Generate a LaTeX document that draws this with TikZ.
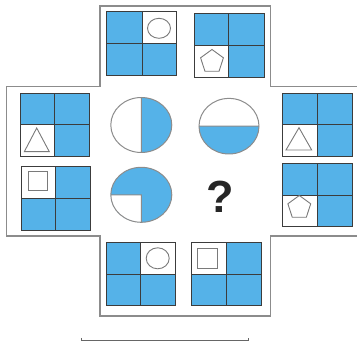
\documentclass[tikz,border=0pt]{standalone}
\usepackage{fontspec}
\setsansfont{Liberation Sans}
\usetikzlibrary{shapes.geometric}
\definecolor{blu}{HTML}{55B2E8}
\definecolor{frame}{HTML}{8C8C8C}
\definecolor{gline}{HTML}{3C3C3C}
\definecolor{shp}{HTML}{7A7A7A}
\newcommand\qgrid[7]{% x0 y0 x1 y1 xm ym white-cell-rectangle
  \fill[blu] (#1,#2) rectangle (#3,#4);
  \fill[white] #7;
  \draw[gridl] (#1,#2) rectangle (#3,#4) (#5,#2) -- (#5,#4) (#1,#6) -- (#3,#6);
}
\begin{document}
\begin{tikzpicture}[x=1pt,y=-1pt,
  gridl/.style={draw=gline,line width=0.8pt},
  outl/.style={draw=frame,line width=1.4pt},
  glyph/.style={draw=shp,line width=0.9pt,inner sep=0pt},
  circ/.style={draw=frame,line width=1pt},
  pent/.style={glyph,regular polygon,regular polygon sides=5,minimum size=24pt}]
\useasboundingbox (0,0) rectangle (357,345);
% outline
\draw[outl] (357,86.7) -- (270.7,86.7) -- (270.7,6) -- (100,6) -- (100,86.7) -- (6.7,86.7)
  -- (6.7,236) -- (100,236) -- (100,316) -- (270.7,316) -- (270.7,236) -- (357,236);
% top grids
\qgrid{106.7}{11.7}{176.7}{75}{142}{43.3}{(142,11.7) rectangle (176.7,43.3)}
\node[glyph,ellipse,minimum width=23pt,minimum height=20pt] (c1) at (159,28.3) {};
\qgrid{194}{13.3}{264}{77.3}{228.7}{45}{(194,45) rectangle (228.7,77.3)}
\node[pent] (p1) at (212,61.5) {};
% left grids
\qgrid{20}{93.3}{89.3}{156}{54.3}{124.3}{(20,124.3) rectangle (54.3,156)}
\draw[glyph] (36.7,128) -- (49.3,151.7) -- (24.3,151.7) -- cycle;
\qgrid{21}{166.7}{90.3}{230}{55.7}{198.3}{(21,166.7) rectangle (55.7,198.3)}
\node[glyph,rectangle,minimum width=19.4pt,minimum height=19pt] (s1) at (38,181.2) {};
% right grids
\qgrid{282.7}{93.3}{352.3}{156}{317.3}{124.3}{(282.7,124.3) rectangle (317.3,156)}
\draw[glyph] (299,127.7) -- (311.7,150) -- (286,150) -- cycle;
\qgrid{282.7}{163.3}{352.3}{226.7}{317.3}{195}{(282.7,195) rectangle (317.3,226.7)}
\node[pent] (p2) at (299.3,207.5) {};
% bottom grids
\qgrid{106}{242.3}{175.7}{305.7}{140.7}{274}{(140.7,242.3) rectangle (175.7,274)}
\node[glyph,ellipse,minimum width=23pt,minimum height=21pt] (c2) at (157.7,258.3) {};
\qgrid{191.7}{242.3}{261.7}{305.7}{226.7}{274}{(191.7,242.3) rectangle (226.7,274)}
\node[glyph,rectangle,minimum width=19.6pt,minimum height=19.3pt] (s2) at (207.5,258.6) {};
% circles
\begin{scope}
  \clip (141.3,125) ellipse (30.5 and 27.5);
  \fill[blu] (141.3,90) rectangle (180,160);
\end{scope}
\draw[circ] (141.3,125) ellipse (30.5 and 27.5) (141.3,97.5) -- (141.3,152.5);
\begin{scope}
  \clip (229,126.2) ellipse (30 and 27.8);
  \fill[blu] (190,126.2) rectangle (265,160);
\end{scope}
\draw[circ] (229,126.2) ellipse (30 and 27.8) (199,126.2) -- (259,126.2);
\begin{scope}
  \clip (141.3,194.8) ellipse (30.5 and 27.5);
  \fill[blu] (100,160) rectangle (180,230);
  \fill[white] (100,194.8) rectangle (141.3,230);
\end{scope}
\draw[circ] (141.3,194.8) ellipse (30.5 and 27.5) (110.8,194.8) -- (141.3,194.8) -- (141.3,222.3);
\node[font=\sffamily\bfseries\fontsize{45}{45}\selectfont,text=black!85,inner sep=0pt] (q) at (220,196.5) {?};
% bottom line
\draw[draw=black!60,line width=0.9pt] (81,338) -- (81,340) -- (248,340) -- (248,338);
\end{tikzpicture}
\end{document}
